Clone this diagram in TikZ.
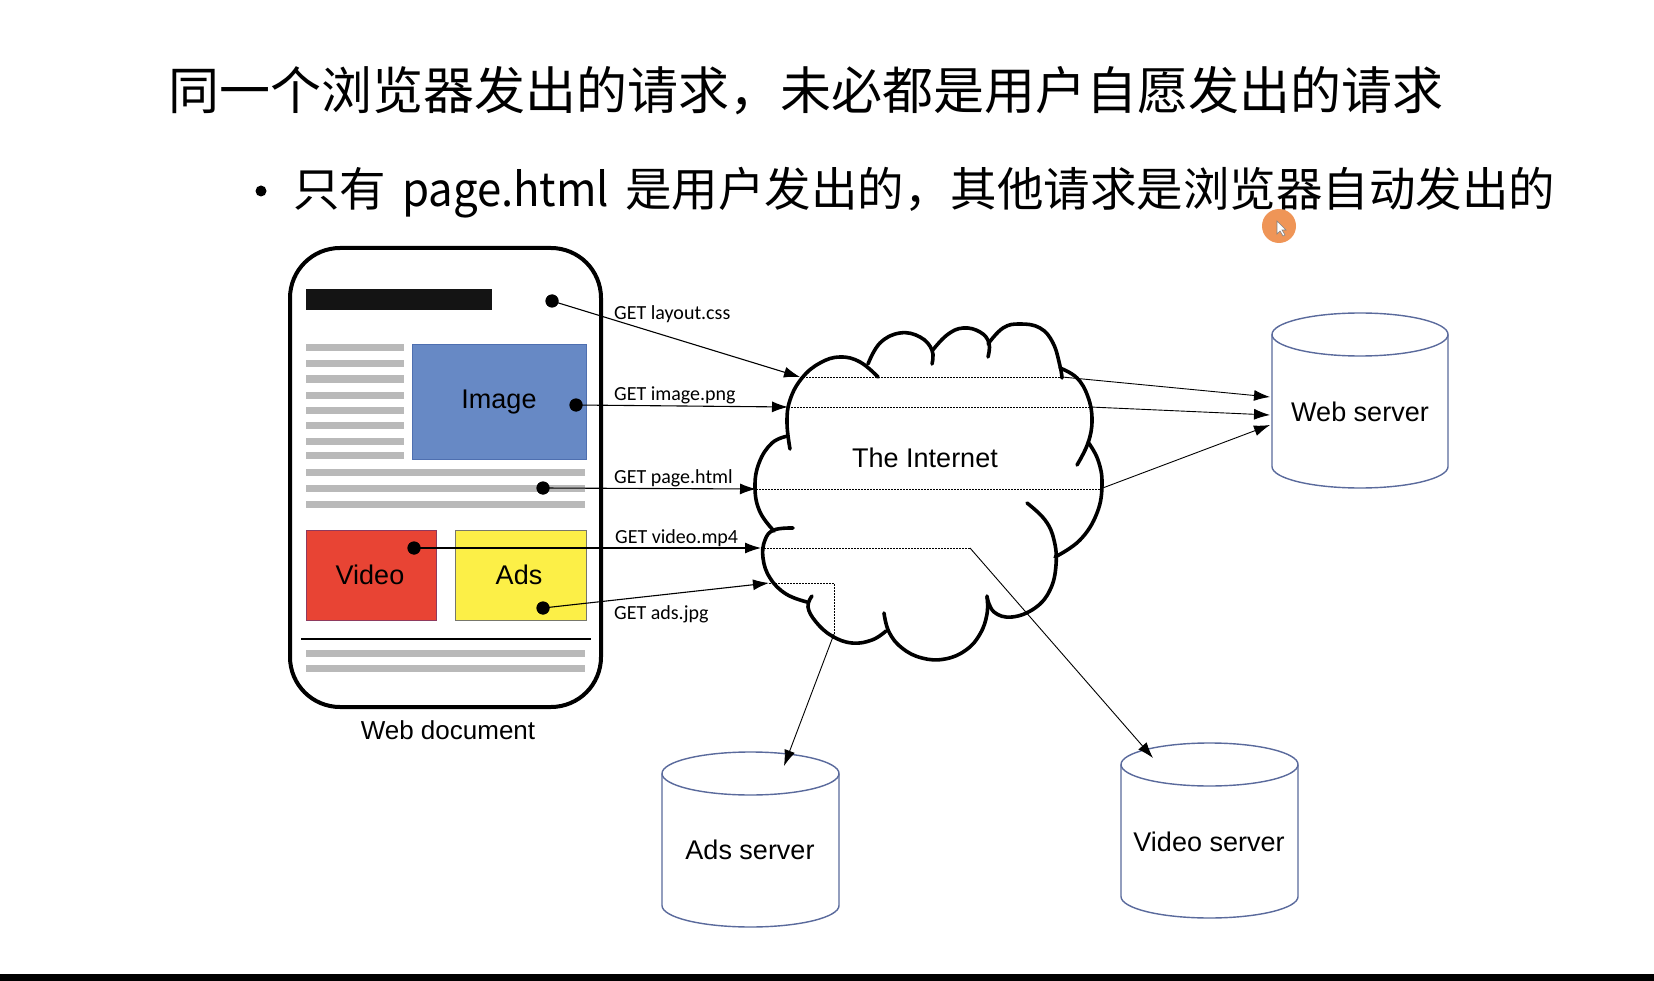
\documentclass[tikz,border=0pt]{standalone}
\usepackage{fontspec}
\usepackage{graphicx}
\setmainfont{Liberation Sans}
\newfontfamily\cjk{Noto Sans CJK SC}
\newfontfamily\getf{Carlito}
\usetikzlibrary{arrows.meta}
\definecolor{imgf}{HTML}{6789C5}
\definecolor{imgb}{HTML}{4E6FB0}
\definecolor{vidf}{HTML}{E84434}
\definecolor{vidb}{HTML}{8E3A5E}
\definecolor{adsf}{HTML}{FCEF47}
\definecolor{adsb}{HTML}{77776A}
\definecolor{grayl}{HTML}{B9B9B9}
\definecolor{cylc}{HTML}{5A6A9C}
\definecolor{cursorc}{HTML}{EE8A45}
\newcommand\servercyl[5]{%
  \draw[cyl] (#1,#3+#5) -- (#1,#4-#5) arc[start angle=180,end angle=0,x radius={(#2-#1)/2},y radius=#5] -- (#2,#3+#5);
  \draw[cyl] ({(#1+#2)/2},#3+#5) ellipse [x radius={(#2-#1)/2}, y radius=#5];
}
\begin{document}
\begin{tikzpicture}[x=1pt,y=-1pt,
  docframe/.style={line width=4pt, rounded corners=50pt},
  grayline/.style={draw=grayl, line width=7pt},
  dotn/.style={circle, fill=black, inner sep=0pt, minimum size=13pt},
  req/.style={line width=1.1pt, -{Latex[length=16pt,width=11pt]}},
  inseg/.style={line width=0.9pt, dash pattern=on 1.6pt off 1.4pt},
  outseg/.style={line width=0.9pt},
  outarrow/.style={line width=0.9pt, -{Latex[length=16pt,width=11pt]}},
  getlbl/.style={font=\getf\fontsize{20}{24}\selectfont, anchor=base west, inner sep=0pt},
  lbl/.style={font=\fontsize{27}{32}\selectfont, inner sep=0pt},
  cloudline/.style={line width=3.6pt, line cap=round, line join=round},
  cyl/.style={draw=cylc, line width=1.4pt},
]
\useasboundingbox[fill=white] (0,0) rectangle (1654,981);

% title and subtitle
\node[anchor=base west, inner sep=0pt, font=\cjk\fontsize{51}{60}\selectfont] (title) at (168,110) {同一个浏览器发出的请求，未必都是用户自愿发出的请求};
\node[circle, fill=black, inner sep=0pt, minimum size=11pt] (bullet) at (261,191) {};
\node[anchor=base west, inner sep=0pt, font=\cjk\fontsize{46.5}{55}\selectfont] (sub) at (293,207) {只有\hspace{0.34em}\scalebox{0.94}[1]{page.html}\hspace{0.34em}是用户发出的，其他请求是浏览器自动发出的};
\fill[cursorc, opacity=0.9] (1279,226) circle (17);
\draw[fill=white, draw=gray, line width=0.6pt] (1277,221) -- (1277,234) -- (1280,231) -- (1283,236) -- (1285,235) -- (1282,230) -- (1286,230) -- cycle;

% web document
\draw[docframe] (290,248) rectangle (601,707);
\fill[black!92] (306,289) rectangle (492,310);
\foreach \yy in {348,364,379,395,410,425,441,455} \draw[grayline] (306,\yy) -- (404,\yy);
\foreach \yy in {472,488,504,653,668} \draw[grayline] (306,\yy) -- (585,\yy);
\draw[line width=1.3pt] (301,639) -- (591,639);
\draw[draw=imgb, fill=imgf, line width=1pt] (412,345) rectangle (586,459);
\node[lbl] (img) at (499,402) {Image};
\draw[draw=vidb, fill=vidf, line width=1pt] (306,530) rectangle (436,620);
\node[lbl] (vid) at (370,575) {Video};
\draw[draw=adsb, fill=adsf, line width=1pt] (455,530) rectangle (586,620);
\node[lbl] (ads) at (519,575) {Ads};
\node[font=\fontsize{26}{30}\selectfont, inner sep=0pt] (doclbl) at (448,730) {Web document};

% cloud
\draw[cloudline] plot[smooth, tension=0.7] coordinates {(790,449) (787,423) (790,400) (802,378) (820,363) (840,357) (860,362) (878,377)};
\draw[cloudline] plot[smooth, tension=0.7] coordinates {(868,364) (880,343) (900,333) (920,337) (932,350) (932,364)};
\draw[cloudline] plot[smooth, tension=0.7] coordinates {(932,351) (947,335) (963,328) (980,332) (989,343) (988,357)};
\draw[cloudline] plot[smooth, tension=0.7] coordinates {(988,344) (1003,328) (1020,324) (1040,328) (1053,343) (1060,366) (1062,378)};
\draw[cloudline] plot[smooth, tension=0.7] coordinates {(1060,368) (1077,378) (1088,397) (1092,420) (1088,443) (1077,465)};
\draw[cloudline] plot[smooth, tension=0.7] coordinates {(1088,442) (1098,460) (1102,484) (1097,513) (1080,540) (1055,557)};
\draw[cloudline] plot[smooth, tension=0.7] coordinates {(1027,503) (1045,520) (1054,540) (1056,565) (1050,590) (1035,608) (1012,617) (994,612) (987,597)};
\draw[cloudline] plot[smooth, tension=0.7] coordinates {(987,596) (987,614) (980,634) (966,650) (945,659) (922,658) (902,648) (889,632) (884,613)};
\draw[cloudline] plot[smooth, tension=0.7] coordinates {(886,631) (872,640) (852,643) (832,636) (816,622) (808,607) (812,596)};
\draw[cloudline] plot[smooth, tension=0.7] coordinates {(807,602) (786,594) (770,578) (763,558) (765,540) (774,530) (793,528)};
\draw[cloudline] plot[smooth, tension=0.7] coordinates {(774,531) (760,512) (755,488) (759,463) (772,443) (788,436)};
\node[lbl] (net) at (925,458) {The Internet};

% servers
\servercyl{1272}{1448}{313}{488}{21.5}
\node[lbl] (websrv) at (1360,412) {Web server};
\servercyl{662}{839}{752}{927}{21.5}
\node[lbl] (adsrv) at (750,850) {Ads server};
\servercyl{1121}{1298}{743}{918}{21.5}
\node[lbl] (vidsrv) at (1209,842) {Video server};

% dots
\node[dotn] (dlayout) at (552,301) {};
\node[dotn] (dimage) at (576,405) {};
\node[dotn] (dpage) at (543,488) {};
\node[dotn] (dvideo) at (414,548) {};
\node[dotn] (dads) at (543,608) {};

% coordinates
\coordinate (tlayout) at (800,377);
\coordinate (timage) at (788,407);
\coordinate (tpage) at (756,489);
\coordinate (tvideo) at (761,548);
\coordinate (tads) at (769,583);
\coordinate (elayout) at (1062,377);
\coordinate (eimage) at (1090,407);
\coordinate (epage) at (1100,489);
\coordinate (evideo) at (970,548);
\coordinate (eads) at (834,583);
\coordinate (eads2) at (834,634);
\coordinate (wa) at (1270,397);
\coordinate (wb) at (1270,415);
\coordinate (wc) at (1270,425);
\coordinate (va) at (1153,758);
\coordinate (aa) at (784,766);

% requests
\draw[req] (dlayout.center) -- (tlayout);
\draw[req] (dimage.center) -- (timage);
\draw[req] (dpage.center) -- (tpage);
\draw[req] (dvideo.center) -- (tvideo);
\draw[req] (dads.center) -- (tads);
\node[dotn] at (dlayout) {};
\node[dotn] at (dimage) {};
\node[dotn] at (dpage) {};
\node[dotn] at (dvideo) {};
\node[dotn] at (dads) {};

% routes
\draw[inseg] (tlayout) -- (elayout);
\draw[inseg] (timage) -- (eimage);
\draw[inseg] (tpage) -- (epage);
\draw[inseg] (tvideo) -- (evideo);
\draw[inseg] (tads) -- (eads) -- (eads2);
\draw[outarrow] (elayout) -- (wa);
\draw[outarrow] (eimage) -- (wb);
\draw[outarrow] (epage) -- (wc);
\draw[outarrow] (evideo) -- (va);
\draw[outarrow] (eads2) -- (aa);

% labels
\node[getlbl] (llayout) at (614,320) {GET layout.css};
\node[getlbl] (limage) at (614,400) {GET image.png};
\node[getlbl] (lpage) at (614,483) {GET page.html};
\node[getlbl] (lvideo) at (615,543) {GET video.mp4};
\node[getlbl] (lads) at (614,619) {GET ads.jpg};

\fill[black] (0,974) rectangle (1654,981);
\end{tikzpicture}
\end{document}
